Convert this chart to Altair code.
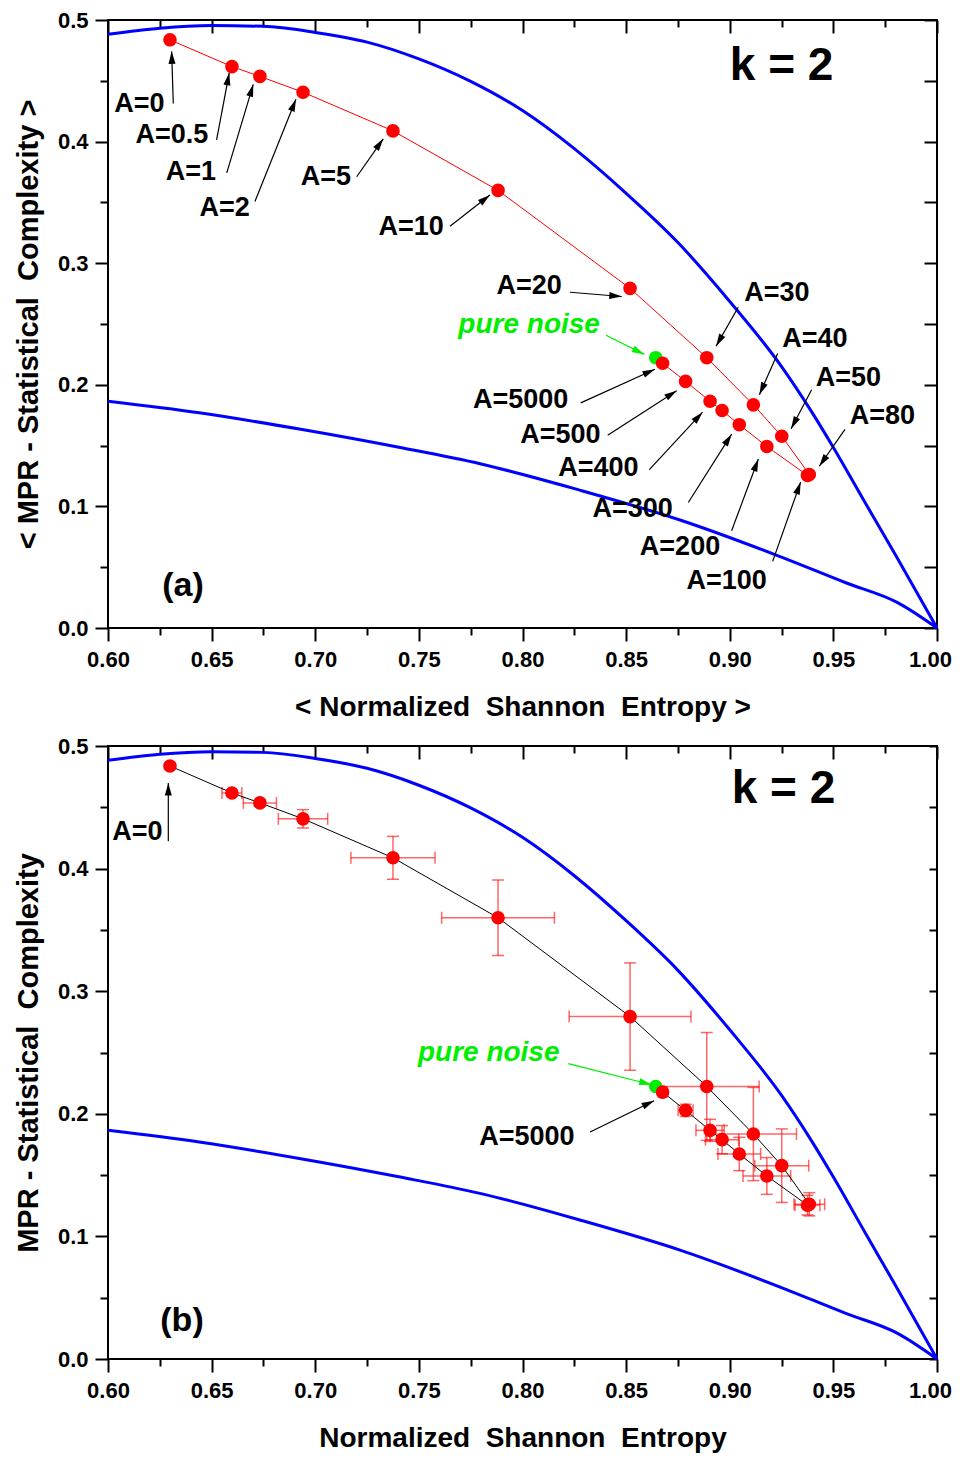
import math
import altair as alt
import pandas as pd

# ---------------- data ----------------
A_VALUES = ["0", "0.5", "1", "2", "5", "10", "20", "30", "40", "50", "80", "100",
            "200", "300", "", "400", "500", "5000"]
H_MEAN = [0.6299, 0.6598, 0.6733, 0.6941, 0.7375, 0.7882, 0.8519, 0.8889, 0.9114,
          0.9251, 0.9384, 0.9375, 0.9179, 0.9046, 0.8963, 0.8905, 0.8787, 0.8676]
C_MEAN = [0.4837, 0.4617, 0.4536, 0.4406, 0.4088, 0.3599, 0.2793, 0.2223, 0.1835,
          0.1577, 0.1262, 0.1255, 0.1493, 0.1672, 0.1789, 0.1865, 0.2028, 0.2177]
H_ERR = [0.0, 0.0048, 0.0080, 0.0119, 0.0203, 0.0272, 0.0294, 0.0253, 0.0208,
         0.0130, 0.0074, 0.0060, 0.0115, 0.0103, 0.0080, 0.0068, 0.0036, 0.0020]
C_ERR = [0.0, 0.0020, 0.0025, 0.0075, 0.0175, 0.0308, 0.0438, 0.0440, 0.0380,
         0.0300, 0.0095, 0.0080, 0.0150, 0.0136, 0.0115, 0.0090, 0.0050, 0.0020]

NOISE_H = [0.8643]
NOISE_C = [0.2223]

CMAX_H = [0.600, 0.625, 0.650, 0.675, 0.700, 0.725, 0.750, 0.775, 0.800, 0.825,
          0.850, 0.875, 0.900, 0.925, 0.940, 0.950, 0.965, 0.980, 1.000]
CMAX_C = [0.4883, 0.4933, 0.4954, 0.4948, 0.4898, 0.4818, 0.4680, 0.4495, 0.4255,
          0.3942, 0.3575, 0.3170, 0.2685, 0.2150, 0.1765, 0.1484, 0.1040, 0.0600, 0.0]
CMIN_H = [0.600, 0.644, 0.693, 0.741, 0.780, 0.828, 0.876, 0.924, 0.956, 0.981, 1.000]
CMIN_C = [0.1865, 0.1770, 0.1634, 0.1484, 0.1349, 0.1132, 0.0888, 0.0589, 0.0372,
          0.0209, 0.0]

X_MAJOR = [0.60, 0.65, 0.70, 0.75, 0.80, 0.85, 0.90, 0.95, 1.00]
X_MINOR = [0.625, 0.675, 0.725, 0.775, 0.825, 0.875, 0.925, 0.975]
Y_MAJOR = [0.0, 0.1, 0.2, 0.3, 0.4, 0.5]
Y_MINOR = [0.05, 0.15, 0.25, 0.35, 0.45]
Y_ALL = [0.0, 0.05, 0.1, 0.15, 0.2, 0.25, 0.3, 0.35, 0.4, 0.45, 0.5]

# annotations (data coordinates)
LABELS_A = ["A=0", "A=0.5", "A=1", "A=2", "A=5", "A=10", "A=20", "A=30", "A=40", "A=50",
            "A=80", "A=100", "A=200", "A=300", "A=400", "A=500", "A=5000"]
LABELS_A_X = [0.6151, 0.6308, 0.6400, 0.6563, 0.7051, 0.7463, 0.8032, 0.9227, 0.9411,
              0.9572, 0.9737, 0.8985, 0.8760, 0.8531, 0.8366, 0.8183, 0.7991]
LABELS_A_Y = [0.4240, 0.3988, 0.3683, 0.3385, 0.3642, 0.3235, 0.2747, 0.2693, 0.2313,
              0.1987, 0.1675, 0.0318, 0.0603, 0.0915, 0.1254, 0.1525, 0.1810]
ARROWS_A_X1 = [0.6315, 0.6524, 0.6573, 0.6709, 0.7200, 0.7650, 0.8229, 0.9041, 0.9231,
               0.9395, 0.9556, 0.9207, 0.9009, 0.8800, 0.8612, 0.8411, 0.8281]
ARROWS_A_Y1 = [0.4313, 0.4015, 0.3743, 0.3507, 0.3711, 0.3304, 0.2761, 0.2638, 0.2258,
               0.1960, 0.1634, 0.0548, 0.0800, 0.1032, 0.1303, 0.1585, 0.1851]
ARROWS_A_X2 = [0.6307, 0.6585, 0.6701, 0.6907, 0.7328, 0.7843, 0.8479, 0.8934, 0.9143,
               0.9296, 0.9432, 0.9342, 0.9138, 0.9009, 0.8869, 0.8744, 0.8639]
ARROWS_A_Y2 = [0.4742, 0.4566, 0.4471, 0.4349, 0.4023, 0.3561, 0.2726, 0.2318, 0.1919,
               0.1639, 0.1330, 0.1200, 0.1390, 0.1594, 0.1775, 0.1952, 0.2128]

LABELS_B = ["A=0", "A=5000"]
LABELS_B_X = [0.6142, 0.8021]
LABELS_B_Y = [0.4236, 0.1743]
ARROWS_B_X1 = [0.6291, 0.8326]
ARROWS_B_Y1 = [0.4223, 0.1852]
ARROWS_B_X2 = [0.6291, 0.8635]
ARROWS_B_Y2 = [0.4698, 0.2107]

NOISE_LABEL = {"a": (0.8032, 0.2427), "b": (0.7837, 0.2431)}
NOISE_ARROW = {"a": (0.8403, 0.2408, 0.8588, 0.2250), "b": (0.8221, 0.2409, 0.8623, 0.2237)}
K_LABEL = {"a": (0.9250, 0.4503), "b": (0.9259, 0.4535)}
PANEL_LABEL = {"a": (0.6362, 0.0261), "b": (0.6357, 0.0228)}

FONT = "Liberation Sans"
W = 829
ARROW_PATH = "M0,0L-0.35,1.25L0.35,1.25Z"


def arrow_df(x1, y1, x2, y2, h):
    rows = []
    for a, b, c, d in zip(x1, y1, x2, y2):
        dxp = (c - a) * W / 0.4
        dyp = -(d - b) * h / 0.5
        ang = math.degrees(math.atan2(dxp, -dyp)) % 360
        rows.append({"x1": a, "y1": b, "x2": c, "y2": d, "ang": ang})
    return pd.DataFrame(rows)


def panel(key, h, line_color, xtitle, ytitle, with_err, right_tick, title_pad):
    xs = alt.Scale(domain=[0.6, 1.0], nice=False, zero=False)
    ys = alt.Scale(domain=[0.0, 0.5], nice=False, zero=False)

    ax_bottom = alt.Axis(orient="bottom", values=X_MAJOR, format=".2f", tickSize=13,
                         labelPadding=8, labelFlush=False, title=xtitle, titlePadding=title_pad,
                         domain=False, minExtent=0,
                         labelOffset={"condition": {"test": "datum.value > 0.99", "value": -7},
                                      "value": 0})
    ax_bottom_minor = alt.Axis(orient="bottom", values=X_MINOR, tickSize=7, labels=False,
                               title=None, domain=False, minExtent=0)
    ax_top = alt.Axis(orient="top", values=X_MAJOR, tickSize=13, offset=-13, labels=False,
                      title=None, domain=False, minExtent=0)
    ax_top_minor = alt.Axis(orient="top", values=X_MINOR, tickSize=7, offset=-7, labels=False,
                            title=None, domain=False, minExtent=0)
    ax_left = alt.Axis(orient="left", values=Y_MAJOR, format=".1f", tickSize=13,
                       labelPadding=7, labelFlush=False, title=ytitle, titlePadding=14,
                       domain=False, minExtent=0)
    ax_left_minor = alt.Axis(orient="left", values=Y_MINOR, tickSize=8, labels=False,
                             title=None, domain=False, minExtent=0)
    ax_right = alt.Axis(orient="right", values=Y_ALL, tickSize=right_tick, offset=-right_tick,
                        labels=False, title=None, domain=False, minExtent=0)

    cmax = pd.DataFrame({"H": CMAX_H, "C": CMAX_C})
    cmin = pd.DataFrame({"H": CMIN_H, "C": CMIN_C})
    pts = pd.DataFrame({"A": A_VALUES, "H": H_MEAN, "C": C_MEAN, "dH": H_ERR, "dC": C_ERR,
                        "i": list(range(len(A_VALUES)))})
    pts["Hlo"] = pts["H"] - pts["dH"]
    pts["Hhi"] = pts["H"] + pts["dH"]
    pts["Clo"] = pts["C"] - pts["dC"]
    pts["Chi"] = pts["C"] + pts["dC"]
    noise = pd.DataFrame({"H": NOISE_H, "C": NOISE_C})

    layers = []
    layers.append(alt.Chart(cmax).mark_line(color="#0000ff", strokeWidth=3,
                                            interpolate="monotone").encode(
        x=alt.X("H:Q", scale=xs, axis=ax_bottom),
        y=alt.Y("C:Q", scale=ys, axis=ax_left)))
    layers.append(alt.Chart(cmin).mark_line(color="#0000ff", strokeWidth=3,
                                            interpolate="monotone").encode(
        x=alt.X("H:Q", scale=xs, axis=ax_bottom_minor),
        y=alt.Y("C:Q", scale=ys, axis=ax_left_minor)))

    if with_err:
        ep = pts[pts["dH"] > 0]
        err_style = dict(color="#ff0000", opacity=0.6)
        layers.append(alt.Chart(ep).mark_rule(strokeWidth=1.5, **err_style).encode(
            x=alt.X("Hlo:Q", scale=xs, axis=None), x2="Hhi:Q",
            y=alt.Y("C:Q", scale=ys, axis=None)))
        layers.append(alt.Chart(ep).mark_rule(strokeWidth=1.5, **err_style).encode(
            x=alt.X("H:Q", scale=xs, axis=None),
            y=alt.Y("Clo:Q", scale=ys, axis=None), y2="Chi:Q"))
        for f in ["Hlo", "Hhi"]:
            layers.append(alt.Chart(ep).mark_tick(orient="vertical", size=12, thickness=1.5,
                                                  **err_style).encode(
                x=alt.X(f + ":Q", scale=xs, axis=None),
                y=alt.Y("C:Q", scale=ys, axis=None)))
        for f in ["Clo", "Chi"]:
            layers.append(alt.Chart(ep).mark_tick(orient="horizontal", size=12, thickness=1.5,
                                                  **err_style).encode(
                x=alt.X("H:Q", scale=xs, axis=None),
                y=alt.Y(f + ":Q", scale=ys, axis=None)))

    layers.append(alt.Chart(pts).mark_line(color=line_color, strokeWidth=1).encode(
        x=alt.X("H:Q", scale=xs, axis=ax_top),
        y=alt.Y("C:Q", scale=ys, axis=ax_right),
        order="i:Q"))
    layers.append(alt.Chart(noise).mark_circle(size=185, color="#00ee00", opacity=1).encode(
        x=alt.X("H:Q", scale=xs, axis=None),
        y=alt.Y("C:Q", scale=ys, axis=None)))
    layers.append(alt.Chart(pts).mark_circle(size=185, color="#ff0000", opacity=1).encode(
        x=alt.X("H:Q", scale=xs, axis=ax_top_minor),
        y=alt.Y("C:Q", scale=ys, axis=None)))

    if key == "a":
        labs = pd.DataFrame({"t": LABELS_A, "x": LABELS_A_X, "y": LABELS_A_Y})
        arr = arrow_df(ARROWS_A_X1, ARROWS_A_Y1, ARROWS_A_X2, ARROWS_A_Y2, h)
    else:
        labs = pd.DataFrame({"t": LABELS_B, "x": LABELS_B_X, "y": LABELS_B_Y})
        arr = arrow_df(ARROWS_B_X1, ARROWS_B_Y1, ARROWS_B_X2, ARROWS_B_Y2, h)
    na = NOISE_ARROW[key]
    narr = arrow_df([na[0]], [na[1]], [na[2]], [na[3]], h)

    for df, col in [(arr, "#000000"), (narr, "#00ee00")]:
        layers.append(alt.Chart(df).mark_rule(color=col, strokeWidth=1.2).encode(
            x=alt.X("x1:Q", scale=xs, axis=None), x2="x2:Q",
            y=alt.Y("y1:Q", scale=ys, axis=None), y2="y2:Q"))
        layers.append(alt.Chart(df).mark_point(shape=ARROW_PATH, size=400, filled=True,
                                               color=col, strokeWidth=0, opacity=1).encode(
            x=alt.X("x2:Q", scale=xs, axis=None),
            y=alt.Y("y2:Q", scale=ys, axis=None),
            angle=alt.Angle("ang:Q", scale=None)))

    layers.append(alt.Chart(labs).mark_text(font=FONT, fontSize=27, fontWeight="bold",
                                            align="center", baseline="alphabetic",
                                            color="black").encode(
        x=alt.X("x:Q", scale=xs, axis=None), y=alt.Y("y:Q", scale=ys, axis=None), text="t:N"))

    nl = NOISE_LABEL[key]
    layers.append(alt.Chart(pd.DataFrame({"t": ["pure noise"], "x": [nl[0]], "y": [nl[1]]}))
                  .mark_text(font=FONT, fontSize=28, fontWeight="bold", fontStyle="italic",
                             align="center", baseline="alphabetic", color="#00ee00").encode(
        x=alt.X("x:Q", scale=xs, axis=None), y=alt.Y("y:Q", scale=ys, axis=None), text="t:N"))
    kl = K_LABEL[key]
    layers.append(alt.Chart(pd.DataFrame({"t": ["k = 2"], "x": [kl[0]], "y": [kl[1]]}))
                  .mark_text(font=FONT, fontSize=46, fontWeight="bold",
                             align="center", baseline="alphabetic", color="black").encode(
        x=alt.X("x:Q", scale=xs, axis=None), y=alt.Y("y:Q", scale=ys, axis=None), text="t:N"))
    pl = PANEL_LABEL[key]
    layers.append(alt.Chart(pd.DataFrame({"t": ["(" + key + ")"], "x": [pl[0]], "y": [pl[1]]}))
                  .mark_text(font=FONT, fontSize=34, fontWeight="bold",
                             align="center", baseline="alphabetic", color="black").encode(
        x=alt.X("x:Q", scale=xs, axis=None), y=alt.Y("y:Q", scale=ys, axis=None), text="t:N"))

    return alt.layer(*layers).resolve_axis(x="independent", y="independent").properties(
        width=W, height=h)


NB = "\u00a0"
top = panel("a", 608, "#ff0000",
            "< Normalized " + NB + "Shannon " + NB + "Entropy >",
            "< MPR - Statistical " + NB + "Complexity >", False, 13, 23)
bottom = panel("b", 613, "#000000",
               "Normalized " + NB + "Shannon " + NB + "Entropy",
               "MPR - Statistical " + NB + "Complexity", True, 8, 23)

chart = alt.vconcat(top, bottom, spacing=12).properties(
    padding={"left": 5, "top": 0, "right": 0, "bottom": 0}
).configure_view(stroke="black", strokeWidth=2).configure_axis(
    grid=False, tickColor="black", tickWidth=2, labelFont=FONT, labelFontSize=22,
    labelFontWeight="bold", labelColor="black", titleFont=FONT, titleFontWeight="bold",
    titleColor="black"
).configure_axisX(titleFontSize=28).configure_axisY(titleFontSize=29)

chart.save("out.html", embed_options={"renderer": "svg", "actions": False})
